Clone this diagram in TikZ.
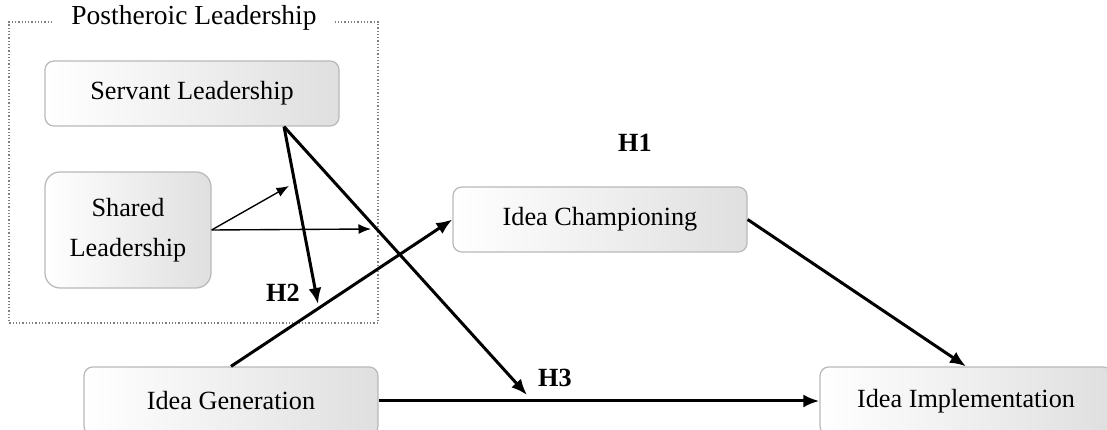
\documentclass[tikz,border=0pt]{standalone}
\usepackage{fontspec}
\setmainfont{Liberation Serif}
\usepackage{tikz}
\usetikzlibrary{arrows.meta}

\tikzset{
  box/.style={draw=gray!55, line width=0.5pt, rounded corners=3.5pt, left color=white, right color=gray!25,
              inner sep=0pt, align=center, font=\fontsize{10.5}{16}\selectfont},
  hyp/.style={font=\bfseries\fontsize{10.5}{12}\selectfont},
  mainarrow/.style={-{Latex[length=6.4pt,width=5.2pt]}, line width=1.2pt},
  modarrow/.style={-{Latex[length=5pt,width=4pt]}, line width=0.55pt},
  groupline/.style={gray, line width=0.6pt, dash pattern=on 0.5pt off 0.8pt}
}

\begin{document}
\begin{tikzpicture}[x=0.4pt,y=-0.4pt]
   \useasboundingbox (0,0) rectangle (1107,430);
   \node[inner xsep=7pt, inner ysep=1pt, font=\fontsize{11}{13}\selectfont] (group) at (194,18) {Postheroic Leadership};
   \draw[groupline] (group.east |- 0,22) -- (378,22) -- (378,323) -- (9,323) -- (9,22) -- (group.west |- 0,22);
   \node[box, minimum width=117.6pt, minimum height=26pt] (sl) at (192,93.5) {Servant Leadership};
   \node[box, minimum width=66.4pt, minimum height=46.4pt, rounded corners=6pt] (sh) at (128,230) {Shared\\Leadership};
   \node[box, minimum width=117.6pt, minimum height=26pt] (ic) at (600,219.5) {Idea Championing};
   \node[box, minimum width=117.6pt, minimum height=27.2pt] (ig) at (231,401) {Idea Generation};
   \node[box, minimum width=116.8pt, minimum height=27.2pt] (ii) at (966,401) {Idea Implementation};
   \node[hyp] (h1) at (635,143) {H1};
   \node[hyp] (h2) at (283,293) {H2};
   \node[hyp] (h3) at (555,378) {H3};
   \coordinate (h2tip) at (318,304);
   \coordinate (h3tip) at (527,395);
   \coordinate (modA) at (289,186);
   \coordinate (modB) at (371,229);
   \draw[mainarrow] (ig.north) -- (ic.west);
   \draw[mainarrow] (ig.east) -- (ii.west);
   \draw[mainarrow] (ic.east) -- (ii.north);
   \draw[mainarrow] ([xshift=36.8pt]sl.south) -- (h2tip);
   \draw[mainarrow] ([xshift=36.8pt]sl.south) -- (h3tip);
   \draw[modarrow] (sh.east) -- (modA);
   \draw[modarrow] (sh.east) -- (modB);
\end{tikzpicture}
\end{document}
